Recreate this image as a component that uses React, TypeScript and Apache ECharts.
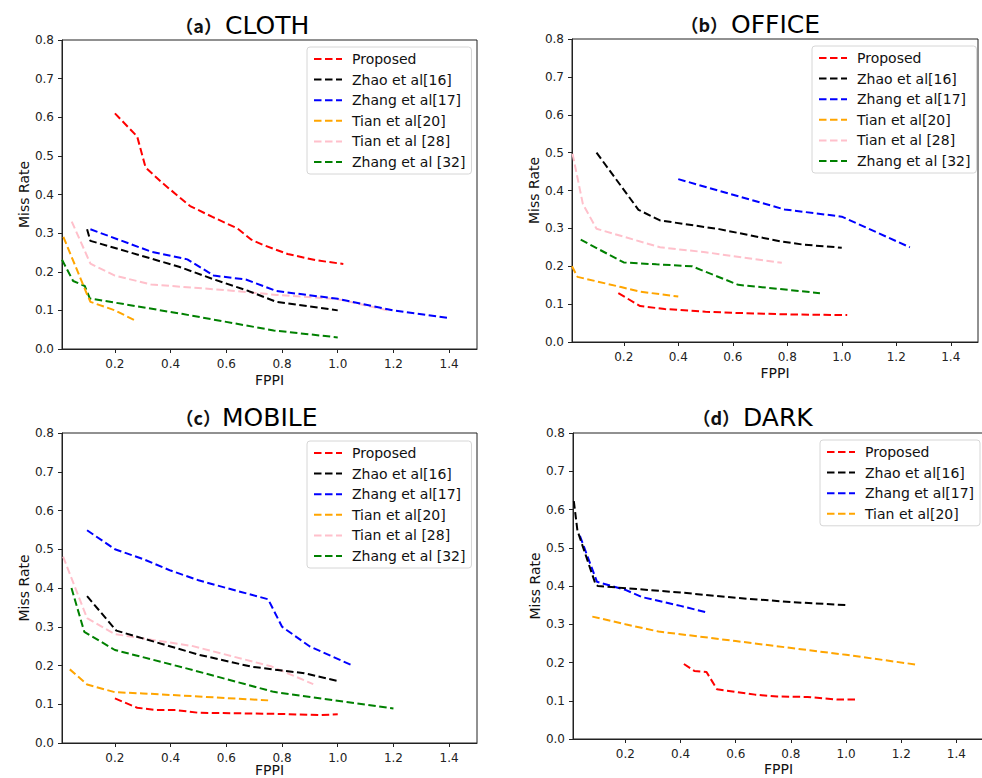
import React, { useEffect, useRef } from "react";
import * as echarts from "echarts";

// ---------- data ----------
const seriesNames = ["Proposed", "Zhao et al[16]", "Zhang et al[17]", "Tian et al[20]", "Tian et al [28]", "Zhang et al [32]"];
const seriesColors = ["#ff0000", "#000000", "#0000ff", "#ffa500", "#ffc0cb", "#008000"];

const xTicks = [0.2, 0.4, 0.6, 0.8, 1.0, 1.2, 1.4];

// (a) CLOTH
const clothProposed = [[0.2, 0.61], [0.28, 0.55], [0.31, 0.47], [0.37, 0.43], [0.47, 0.37], [0.55, 0.342], [0.64, 0.312], [0.69, 0.283], [0.73, 0.27], [0.82, 0.246], [0.92, 0.23], [1.02, 0.22]];
const clothZhao16 = [[0.1, 0.31], [0.112, 0.28], [0.43, 0.213], [0.56, 0.179], [0.68, 0.15], [0.78, 0.122], [1.0, 0.1]];
const clothZhang17 = [[0.112, 0.31], [0.33, 0.252], [0.46, 0.232], [0.555, 0.19], [0.67, 0.18], [0.78, 0.15], [1.0, 0.13], [1.2, 0.1], [1.4, 0.08]];
const clothTian20 = [[0.015, 0.29], [0.102, 0.138], [0.112, 0.122], [0.2, 0.1], [0.275, 0.073]];
const clothTian28 = [[0.045, 0.33], [0.112, 0.221], [0.2, 0.19], [0.33, 0.167], [0.46, 0.16], [0.62, 0.151], [0.78, 0.14], [1.0, 0.129], [1.18, 0.1]];
const clothZhang32 = [[0.01, 0.231], [0.05, 0.176], [0.092, 0.163], [0.11, 0.131], [0.44, 0.091], [0.77, 0.048], [1.0, 0.03]];

// (b) OFFICE
const officeProposed = [[0.18, 0.129], [0.26, 0.095], [0.35, 0.087], [0.5, 0.08], [0.6, 0.077], [0.8, 0.073], [1.02, 0.071]];
const officeZhao16 = [[0.1, 0.5], [0.254, 0.349], [0.333, 0.321], [0.55, 0.298], [0.78, 0.265], [0.86, 0.257], [1.0, 0.249]];
const officeZhang17 = [[0.4, 0.43], [0.79, 0.35], [1.0, 0.331], [1.25, 0.25]];
const officeTian20 = [[0.01, 0.2], [0.03, 0.172], [0.19, 0.145], [0.26, 0.133], [0.4, 0.12]];
const officeTian28 = [[0.012, 0.497], [0.05, 0.364], [0.1, 0.299], [0.2, 0.278], [0.333, 0.25], [0.5, 0.237], [0.78, 0.209]];
const officeZhang32 = [[0.042, 0.27], [0.2, 0.21], [0.32, 0.205], [0.45, 0.2], [0.62, 0.151], [0.92, 0.129]];

// (c) MOBILE
const mobileProposed = [[0.2, 0.115], [0.28, 0.091], [0.35, 0.085], [0.42, 0.085], [0.5, 0.078], [0.7, 0.076], [0.8, 0.075], [0.93, 0.072], [1.0, 0.074]];
const mobileZhao16 = [[0.1, 0.379], [0.205, 0.29], [0.3, 0.27], [0.5, 0.228], [0.69, 0.197], [0.8, 0.187], [0.88, 0.18], [1.0, 0.16]];
const mobileZhang17 = [[0.1, 0.549], [0.2, 0.5], [0.3, 0.475], [0.4, 0.445], [0.5, 0.42], [0.6, 0.4], [0.75, 0.371], [0.8, 0.3], [0.9, 0.249], [1.05, 0.201]];
const mobileTian20 = [[0.038, 0.19], [0.1, 0.151], [0.2, 0.131], [0.3, 0.128], [0.5, 0.12], [0.75, 0.11]];
const mobileTian28 = [[0.014, 0.481], [0.1, 0.322], [0.2, 0.281], [0.48, 0.25], [0.76, 0.198], [0.912, 0.152]];
const mobileZhang32 = [[0.044, 0.4], [0.09, 0.287], [0.2, 0.24], [0.46, 0.192], [0.77, 0.132], [1.2, 0.089]];

// (d) DARK
const darkProposed = [[0.412, 0.196], [0.45, 0.178], [0.494, 0.175], [0.532, 0.13], [0.6, 0.123], [0.67, 0.116], [0.75, 0.111], [0.86, 0.11], [0.97, 0.103], [1.04, 0.103]];
const darkZhao16 = [[0.013, 0.622], [0.026, 0.545], [0.092, 0.404], [0.1, 0.4], [0.4, 0.383], [0.6, 0.369], [0.8, 0.358], [1.0, 0.35]];
const darkZhang17 = [[0.035, 0.531], [0.097, 0.411], [0.2, 0.39], [0.26, 0.371], [0.4, 0.348], [0.5, 0.33]];
const darkTian20 = [[0.08, 0.32], [0.2, 0.3], [0.32, 0.281], [0.6, 0.256], [1.0, 0.22], [1.25, 0.195]];

const panels = [
  { tag: "（a）", name: "CLOTH", data: [clothProposed, clothZhao16, clothZhang17, clothTian20, clothTian28, clothZhang32] },
  { tag: "（b）", name: "OFFICE", data: [officeProposed, officeZhao16, officeZhang17, officeTian20, officeTian28, officeZhang32] },
  { tag: "（c）", name: "MOBILE", data: [mobileProposed, mobileZhao16, mobileZhang17, mobileTian20, mobileTian28, mobileZhang32] },
  { tag: "（d）", name: "DARK", data: [darkProposed, darkZhao16, darkZhang17, darkTian20] },
];

// ---------- layout ----------
const grids = [
  { left: 62, top: 40, width: 415, height: 309 },
  { left: 572, top: 39, width: 406, height: 303 },
  { left: 62, top: 433, width: 415, height: 310 },
  { left: 573, top: 433, width: 411, height: 306 },
];
const xNameGaps = [24, 24, 20, 23];
const legendPos = [
  { left: 307, top: 47 },
  { left: 812, top: 46 },
  { left: 307, top: 441 },
  { left: 820, top: 440 },
];
const titlePos = [
  { tagRight: 222, wordX: 225, y: 25 },
  { tagRight: 728, wordX: 731, y: 24 },
  { tagRight: 221, wordX: 222, y: 417 },
  { tagRight: 740, wordX: 743, y: 417 },
];

const FONT = "DejaVu Sans";
const AXIS_COLOR = "#222";

export default function App() {
  const ref = useRef<HTMLDivElement>(null);
  useEffect(() => {
    if (!ref.current) return;
    const chart = echarts.init(ref.current, null, { renderer: "svg" });
    const xAxis: any[] = [];
    const yAxis: any[] = [];
    const series: any[] = [];
    const legend: any[] = [];
    const graphic: any[] = [];
    panels.forEach((p, i) => {
      xAxis.push({
        type: "value",
        gridIndex: i,
        min: 0.01,
        max: 1.5,
        name: "FPPI",
        nameLocation: "middle",
        nameGap: xNameGaps[i],
        nameMoveOverlap: false,
        nameTextStyle: { fontFamily: FONT, fontSize: 14, color: "#111", lineHeight: 13 },
        splitLine: { show: false },
        axisLine: { show: true, lineStyle: { color: AXIS_COLOR, width: 1 } },
        axisTick: { show: true, inside: false, length: 4, lineStyle: { color: AXIS_COLOR }, customValues: xTicks },
        axisLabel: {
          customValues: xTicks,
          formatter: (v: number) => v.toFixed(1),
          fontFamily: FONT,
          fontSize: 12,
          color: "#222",
          margin: 9,
        },
      });
      yAxis.push({
        type: "value",
        gridIndex: i,
        min: 0,
        max: 0.8,
        interval: 0.1,
        name: "Miss Rate",
        nameLocation: "middle",
        nameGap: 31,
        nameTextStyle: { fontFamily: FONT, fontSize: 14, color: "#111" },
        splitLine: { show: false },
        axisLine: { show: true, lineStyle: { color: AXIS_COLOR, width: 1 } },
        axisTick: { show: true, inside: false, length: 4, lineStyle: { color: AXIS_COLOR } },
        axisLabel: {
          formatter: (v: number) => v.toFixed(1),
          fontFamily: FONT,
          fontSize: 12,
          color: "#222",
          margin: 8,
        },
      });
      p.data.forEach((d, k) => {
        series.push({
          type: "line",
          name: seriesNames[k],
          xAxisIndex: i,
          yAxisIndex: i,
          data: d,
          symbol: "none",
          showSymbol: false,
          lineStyle: { color: seriesColors[k], width: 2, type: [7.5, 3.5] },
          itemStyle: { color: seriesColors[k] },
          z: 10 - k,
        });
      });
      legend.push({
        orient: "vertical",
        left: legendPos[i].left,
        top: legendPos[i].top,
        data: seriesNames.slice(0, p.data.length),
        itemWidth: 28,
        itemHeight: 14,
        itemGap: 6.6,
        padding: [5, 6, 5, 6],
        backgroundColor: "rgba(255,255,255,0.8)",
        borderColor: "#d6d6d6",
        borderWidth: 1,
        borderRadius: 3,
        selectedMode: false,
        itemStyle: { opacity: 0 },
        textStyle: { fontFamily: FONT, fontSize: 14, color: "#111", lineHeight: 14, padding: [0, 0, 0, 5] },
      });
      graphic.push({
        type: "text",
        x: titlePos[i].tagRight,
        y: titlePos[i].y,
        style: {
          text: p.tag,
          font: "bold 18px 'Noto Sans CJK SC'",
          fill: "#111",
          align: "right",
          verticalAlign: "middle",
        },
      });
      graphic.push({
        type: "text",
        x: titlePos[i].wordX,
        y: titlePos[i].y,
        style: {
          text: p.name,
          font: "25px 'DejaVu Sans'",
          fill: "#000",
          align: "left",
          verticalAlign: "middle",
        },
      });
    });
    chart.setOption({
      animation: false,
      backgroundColor: "#fff",
      grid: grids.map((g) => ({
        ...g,
        show: true,
        borderColor: AXIS_COLOR,
        borderWidth: 1,
        backgroundColor: "transparent",
        containLabel: false,
        outerBoundsMode: "none",
      })),
      xAxis,
      yAxis,
      series,
      legend,
      graphic,
    });
    return () => chart.dispose();
  }, []);
  return (
    <div
      ref={ref}
      style={{ position: "fixed", left: 0, top: 0, width: 982, height: 778, background: "#fff" }}
    />
  );
}
